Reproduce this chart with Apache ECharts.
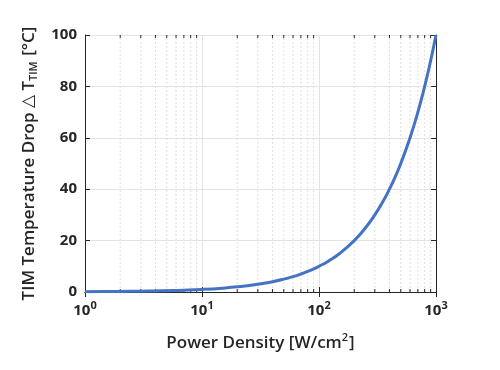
<!DOCTYPE html>
<html><head><meta charset="utf-8">
<script src="https://cdn.jsdelivr.net/npm/echarts@6/dist/echarts.min.js"></script>
<style>html,body{margin:0;padding:0;background:#fff}#c{width:500px;height:370px}</style>
</head><body><div id="c"></div>
<script>
const powerDensity = [1,1.5,2,3,4,5,7,10,15,20,30,40,50,60,70,80,90,100,120,150,200,250,300,350,400,450,500,600,700,800,900,1000];
const tempDrop =     [0.1,0.15,0.2,0.3,0.4,0.5,0.7,1,1.5,2,3,4,5,6,7,8,9,10,12,15,20,25,30,35,40,45,50,60,70,80,90,100];
const minorTicks = [2,3,4,5,6,7,8,9,20,30,40,50,60,70,80,90,200,300,400,500,600,700,800,900];
const yTicks = [0,20,40,60,80,100];
const expLabels = {1:'0',10:'1',100:'2',1000:'3'};

const chart = echarts.init(document.getElementById('c'));
const FONT = 'Open Sans';
const DARK = '#262626';
chart.setOption({
  animation:false,
  grid:{left:85,right:64,top:35,bottom:78,show:false},
  xAxis:[{
    type:'log',logBase:10,min:1,max:1000,
    name:'Power Density [W/cm{sup|2}]',nameLocation:'middle',nameGap:40,
    nameTextStyle:{fontFamily:FONT,fontSize:17,fontWeight:600,color:DARK,
      rich:{sup:{fontFamily:FONT,fontSize:11,fontWeight:600,color:DARK,padding:[0,1,11,0]}}},
    axisLine:{lineStyle:{color:DARK,width:1}},
    axisTick:{inside:true,length:5,lineStyle:{color:DARK}},
    axisLabel:{margin:8,formatter:v=>'{b|10}{s|'+expLabels[Math.round(v)]+'}',
      rich:{b:{fontFamily:FONT,fontSize:15,fontWeight:'bold',color:DARK},
            s:{fontFamily:FONT,fontSize:11,fontWeight:'bold',color:DARK,padding:[0,0,11,0]}}},
    splitLine:{show:true,lineStyle:{color:'#e3e3e3',width:1}}
  },{
    type:'log',logBase:10,min:1,max:1000,position:'top',
    axisLine:{show:true,lineStyle:{color:DARK,width:1}},
    axisTick:{inside:true,length:5,lineStyle:{color:DARK}},
    axisLabel:{show:false},splitLine:{show:false}
  }],
  yAxis:[{
    type:'value',min:0,max:100,interval:20,
    name:'TIM Temperature Drop {tri|△} T{sub|TIM} [°C]',nameLocation:'middle',nameGap:46,
    nameTextStyle:{fontFamily:FONT,fontSize:17,fontWeight:600,color:DARK,
      rich:{sub:{fontFamily:FONT,fontSize:11,fontWeight:600,color:DARK,padding:[9,1,0,0]},
            tri:{fontFamily:'DejaVu Sans',fontSize:17,color:DARK}}},
    axisLine:{show:true,lineStyle:{color:DARK,width:1}},
    axisTick:{show:true,inside:true,length:5,lineStyle:{color:DARK}},
    axisLabel:{margin:8,fontFamily:FONT,fontSize:15,fontWeight:'bold',color:DARK},
    splitLine:{show:true,lineStyle:{color:'#e3e3e3',width:1}}
  },{
    type:'value',min:0,max:100,interval:20,position:'right',
    axisLine:{show:true,lineStyle:{color:DARK,width:1}},
    axisTick:{show:true,inside:true,length:5,lineStyle:{color:DARK}},
    axisLabel:{show:false},splitLine:{show:false}
  }],
  series:[{
    type:'custom',xAxisIndex:0,yAxisIndex:0,silent:true,z:1,
    data:minorTicks.map(v=>[v]),
    renderItem:(params,api)=>{
      const x=api.value(0);
      const b=api.coord([x,0]), t=api.coord([x,100]);
      return {type:'group',children:[
        {type:'line',shape:{x1:b[0],y1:b[1],x2:t[0],y2:t[1]},style:{stroke:'#e0e0e0',lineWidth:1,lineDash:[2,2]}},
        {type:'line',shape:{x1:b[0],y1:b[1],x2:b[0],y2:b[1]-3},style:{stroke:DARK,lineWidth:1}},
        {type:'line',shape:{x1:t[0],y1:t[1],x2:t[0],y2:t[1]+3},style:{stroke:DARK,lineWidth:1}}
      ]};
    }
  },{
    type:'line',xAxisIndex:0,yAxisIndex:0,smooth:true,showSymbol:false,z:5,
    data:powerDensity.map((p,i)=>[p,tempDrop[i]]),
    lineStyle:{color:'#4472c4',width:3}
  }]
});
</script></body></html>
